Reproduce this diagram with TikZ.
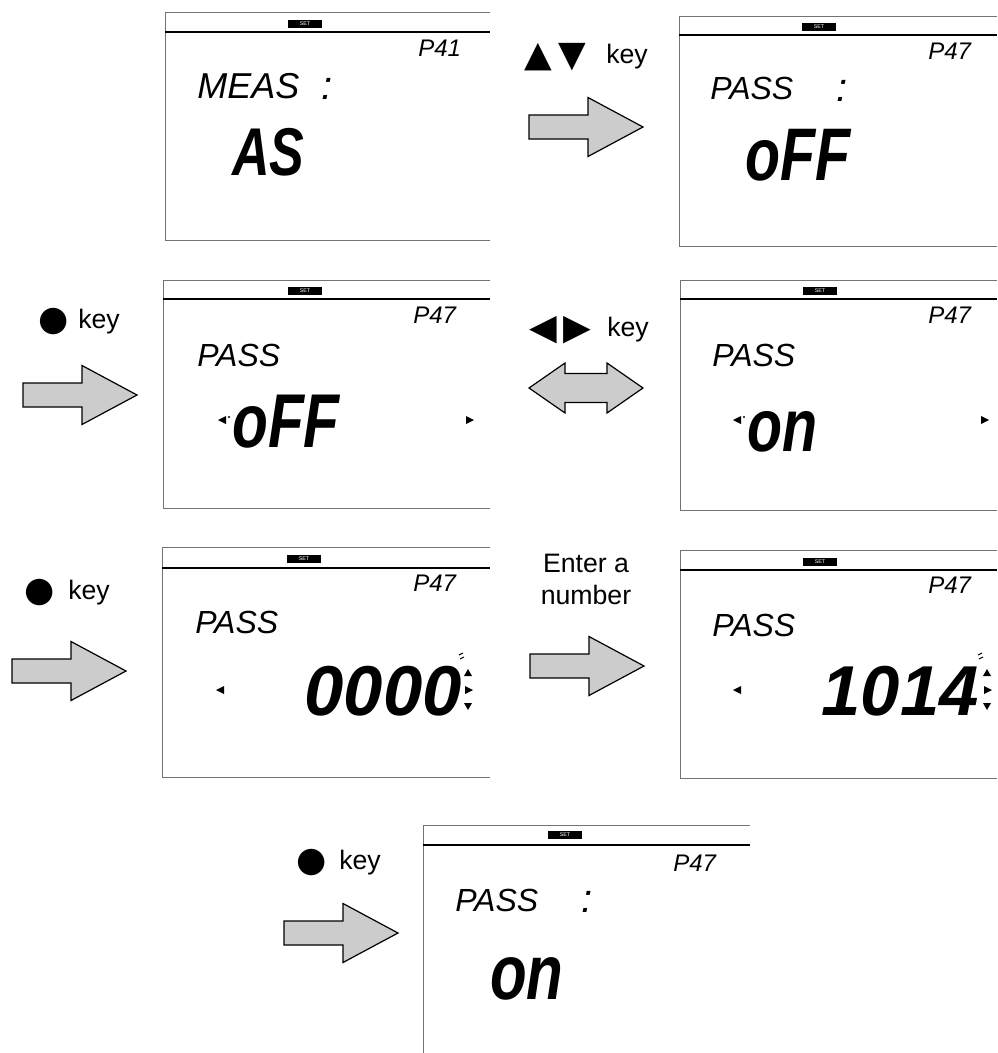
\documentclass[tikz,border=0pt]{standalone}
\usepackage{fontspec}
\usepackage{graphicx}
\setmainfont{Liberation Sans}
\newfontfamily\symfont{DejaVu Sans}
\newcommand\lcdbig[2][1.3]{\scalebox{1}[#1]{\bfseries\itshape #2}}

\tikzset{
  fatarrow/.pic={\draw[arrowfill] (0,-12)--(59,-12)--(59,-29.5)--(114,0)--(59,29.5)--(59,12)--(0,12)--cycle;},
  twinarrow/.pic={\draw[arrowfill] (0,0)--(36,-25)--(36,-14.5)--(78,-14.5)--(78,-25)--(114,0)--(78,25)--(78,14.5)--(36,14.5)--(36,25)--cycle;},
  ltri/.pic={\fill (-4,0)--(4,-4)--(4,4)--cycle;},
  rtri/.pic={\fill (4,0)--(-4,-4)--(-4,4)--cycle;},
  utri/.pic={\fill (0,-4)--(-4,3)--(4,3)--cycle;},
  dtri/.pic={\fill (0,4)--(-4,-3)--(4,-3)--cycle;},
  blink/.pic={\draw[line width=0.8pt] (-4,-2)--(0,-4) (-3,2)--(1,0);}
}

\begin{document}
\begin{tikzpicture}[x=0.75pt,y=-0.75pt,
  arrowfill/.style={fill=black!20,draw=black,line width=0.9pt,line join=miter},
  edge/.style={draw=black!55,line width=0.6pt},
  bar/.style={draw=black,line width=1.4pt},
  setbox/.style={fill=black,text=white,inner sep=0pt,minimum width=26pt,minimum height=6pt,font=\fontsize{4}{4}\selectfont},
  lcd/.style={anchor=west,inner sep=0pt,font=\itshape\fontsize{#1}{#1}\selectfont},
  big/.style={anchor=west,inner sep=0pt,font=\fontsize{#1}{#1}\selectfont},
  keytext/.style={anchor=west,inner sep=0pt,font=\fontsize{20}{24}\selectfont},
  sym/.style={anchor=west,inner sep=0pt,font=\symfont\fontsize{#1}{#1}\selectfont}]
  \useasboundingbox (0,0) rectangle (997,1053);

  % screen frames: left/top/right/bottom/header
  \foreach \l/\t/\r/\b/\h in {165/12/490/240/32, 679/16/997/246/35, 163/280/490/508/299,
      680/280/997/510/299, 162/547/490/777/568, 680/550/997/778/570, 423/825/750/1070/845}{
    \draw[edge] (\r,\t)--(\l,\t)--(\l,\b)--(\r,\b);
    \draw[bar] (\l,\h)--(\r,\h);
  }

  % screen 1
  \node[setbox] (set1) at (305,24) {SET};
  \node[lcd=18] (par1) at (418,48) {P41};
  \node[lcd=27] (meas1) at (197,86) {MEAS};
  \node[lcd=30] (col1) at (321,89) {:};
  \node[big=39] (val1) at (232,152) {\lcdbig{AS}};

  % screen 2
  \node[setbox] (set2) at (819,27) {SET};
  \node[lcd=18] (par2) at (928,51) {P47};
  \node[lcd=24] (pass2) at (710,88) {PASS};
  \node[lcd=30] (col2) at (836,91) {:};
  \node[big=43] (val2) at (745,155) {\lcdbig{oFF}};

  % screen 3
  \node[setbox] (set3) at (305,291) {SET};
  \node[lcd=18] (par3) at (413,315) {P47};
  \node[lcd=24] (pass3) at (197,355) {PASS};
  \pic at (222,420) {ltri};
  \fill (229,417) circle (1.2);
  \node[big=44] (val3) at (232,422) {\lcdbig{oFF}};
  \pic at (470,420) {rtri};

  % screen 4
  \node[setbox] (set4) at (820,291) {SET};
  \node[lcd=18] (par4) at (928,315) {P47};
  \node[lcd=24] (pass4) at (712,355) {PASS};
  \pic at (737,420) {ltri};
  \fill (744,417) circle (1.2);
  \node[big=43] (val4) at (747,432) {\lcdbig{on}};
  \pic at (985,420) {rtri};

  % screen 5
  \node[setbox] (set5) at (304,559) {SET};
  \node[lcd=18] (par5) at (413,583) {P47};
  \node[lcd=24] (pass5) at (195,622) {PASS};
  \pic at (220,690) {ltri};
  \node[big=53,anchor=east] (val5) at (462,691) {\lcdbig[1]{0000}};
  \pic at (463,657) {blink};
  \pic at (468,673) {utri};
  \pic at (469,690) {rtri};
  \pic at (468,706) {dtri};

  % screen 6
  \node[setbox] (set6) at (820,562) {SET};
  \node[lcd=18] (par6) at (928,585) {P47};
  \node[lcd=24] (pass6) at (712,625) {PASS};
  \pic at (737,690) {ltri};
  \node[big=53,anchor=east] (val6) at (979,691) {\lcdbig[1]{1014}};
  \pic at (982,657) {blink};
  \pic at (987,673) {utri};
  \pic at (988,690) {rtri};
  \pic at (987,706) {dtri};

  % screen 7
  \node[setbox] (set7) at (565,835) {SET};
  \node[lcd=18] (par7) at (673,863) {P47};
  \node[lcd=24] (pass7) at (455,900) {PASS};
  \node[lcd=30] (col7) at (581,902) {:};
  \node[big=45] (val7) at (490,979) {\lcdbig{on}};

  % key labels
  \node[sym=27] (updown) at (524,57) {▲\kern5pt▼};
  \node[keytext] (key1) at (606,57) {key};
  \node[sym=26] (ok1) at (38,322) {●};
  \node[keytext] (key2) at (78,322) {key};
  \node[sym=27] (leftright) at (529,330) {◀\kern5pt▶};
  \node[keytext] (key3) at (607,330) {key};
  \node[sym=26] (ok2) at (24,593) {●};
  \node[keytext] (key4) at (68,593) {key};
  \node[keytext,anchor=center,align=center] (enter) at (586,579) {Enter a\\number};
  \node[sym=26] (ok3) at (296,863) {●};
  \node[keytext] (key5) at (339,863) {key};

  % arrows
  \pic (arr1) at (529,127) {fatarrow};
  \pic (arr2) at (23,395) {fatarrow};
  \pic (arr3) at (529,388) {twinarrow};
  \pic (arr4) at (12,671) {fatarrow};
  \pic (arr5) at (530,666) {fatarrow};
  \pic (arr6) at (284,933) {fatarrow};
\end{tikzpicture}
\end{document}
